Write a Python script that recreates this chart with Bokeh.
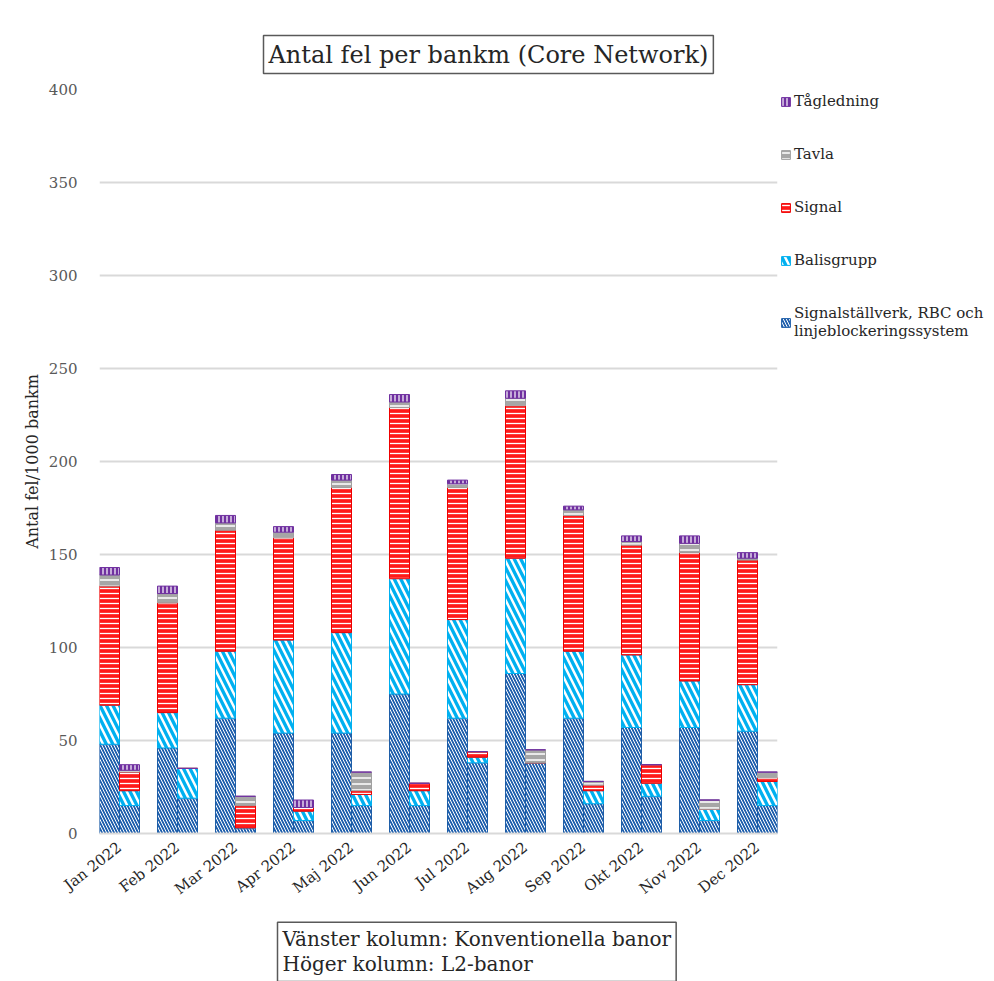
import math
from bokeh.plotting import figure
from bokeh.models import ColumnDataSource, Range1d, FixedTicker, Legend, LegendItem, Title
from bokeh.embed import file_html
from bokeh.resources import INLINE

months = ["Jan 2022", "Feb 2022", "Mar 2022", "Apr 2022", "Maj 2022", "Jun 2022",
          "Jul 2022", "Aug 2022", "Sep 2022", "Okt 2022", "Nov 2022", "Dec 2022"]

series_keys = ["sig", "bal", "signal", "tavla", "tag"]
series_names = ["Signalställverk, RBC och\nlinjeblockeringssystem", "Balisgrupp", "Signal", "Tavla", "Tågledning"]

# Left column: conventional lines
left_sig = [48, 46, 62, 54, 54, 75, 62, 86, 62, 57, 57, 55]
left_bal = [21, 19, 36, 50, 54, 62, 53, 62, 36, 39, 25, 25]
left_signal = [64, 59, 65, 55, 78, 92, 71, 82, 73, 59, 69, 67]
left_tavla = [6, 5, 4, 3, 4, 3, 2, 4, 3, 2, 5, 1]
left_tag = [4, 4, 4, 3, 3, 4, 2, 4, 2, 3, 4, 3]

# Right column: L2 lines
right_sig = [15, 19, 3, 7, 15, 15, 38, 38, 16, 20, 7, 15]
right_bal = [8, 16, 0, 5, 6, 8, 3, 0, 7, 7, 6, 13]
right_signal = [10, 0, 12, 2, 2, 4, 3, 0, 3, 10, 0, 2]
right_tavla = [1, 0, 5, 0, 10, 0, 0, 7, 2, 0, 5, 3]
right_tag = [3, 0, 0, 4, 0, 0, 0, 0, 0, 0, 0, 0]

SERIF = "DejaVu Serif"
idx = list(range(len(months)))
bar_w = 20 / 58
off = bar_w / 2

left_src = ColumnDataSource(dict(x=[i - off for i in idx], sig=left_sig, bal=left_bal,
                                 signal=left_signal, tavla=left_tavla, tag=left_tag))
right_src = ColumnDataSource(dict(x=[i + off for i in idx], sig=right_sig, bal=right_bal,
                                  signal=right_signal, tavla=right_tavla, tag=right_tag))

p = figure(frame_width=678, frame_height=744, output_backend="svg", toolbar_location=None,
           x_range=Range1d(-bar_w, len(months) - 1 + bar_w), y_range=Range1d(0, 400),
           min_border_left=99, min_border_right=217, min_border_top=89, min_border_bottom=148,
           title=None)
p.outline_line_color = None
p.background_fill_color = "white"
p.border_fill_color = "white"

fills = ["#2060ad", "#00b0f0", "#ff1a1a", "#a6a6a6", "#7030a0"]
lines = ["#1f5fa8", "#00b0f0", "#ee0000", "#a0a0a0", "#7030a0"]
hatches = ["\\", "\\", "-", "-", "|"]
hscales = [6, 13, 5, 6, 4]
hweights = [1.0, 2.5, 1.3, 1.5, 1.2]

style = dict(width=bar_w, fill_color=fills, line_color=lines, line_width=1,
             hatch_pattern=hatches, hatch_color="white", hatch_scale=hscales, hatch_weight=hweights)

lr = p.vbar_stack(series_keys, x="x", source=left_src, **style)
rr = p.vbar_stack(series_keys, x="x", source=right_src, **style)

# axes
p.yaxis.ticker = FixedTicker(ticks=list(range(0, 401, 50)))
p.yaxis.axis_line_color = None
p.yaxis.major_tick_line_color = None
p.yaxis.minor_tick_line_color = None
p.yaxis.major_label_text_font = SERIF
p.yaxis.major_label_text_font_size = "15px"
p.yaxis.major_label_text_color = "#595959"
p.yaxis.major_label_standoff = 16
p.yaxis.axis_label = "Antal fel/1000 bankm"
p.yaxis.axis_label_text_font = SERIF
p.yaxis.axis_label_text_font_size = "16px"
p.yaxis.axis_label_text_font_style = "normal"
p.yaxis.axis_label_text_color = "#262626"
p.yaxis.axis_label_standoff = 4

p.xaxis.ticker = FixedTicker(ticks=idx)
p.xaxis.major_label_overrides = {i: m for i, m in enumerate(months)}
p.xaxis.major_label_orientation = 0.66
p.xaxis.axis_line_color = "#d9d9d9"
p.xaxis.axis_line_width = 2
p.xaxis.major_tick_line_color = None
p.xaxis.minor_tick_line_color = None
p.xaxis.major_label_text_font = SERIF
p.xaxis.major_label_text_font_size = "15px"
p.xaxis.major_label_text_color = "#262626"
p.xaxis.major_label_standoff = 6

p.xgrid.grid_line_color = None
p.ygrid.grid_line_color = "#d9d9d9"
p.ygrid.grid_line_width = 2

# legend (reverse order: top = Tågledning)
items = [LegendItem(label=series_names[k], renderers=[lr[k]]) for k in reversed(range(5))]
legend = Legend(items=items, location="top_left", orientation="vertical",
                label_text_font=SERIF, label_text_font_size="15px", label_text_color="#262626",
                glyph_width=11, glyph_height=11, label_standoff=3, label_height=12,
                spacing=35, padding=0, margin=3, border_line_color=None,
                background_fill_alpha=0)
p.add_layout(legend, "right")

# title box (above)
title = Title(text="Antal fel per bankm (Core Network)", align="left", offset=164,
              text_font=SERIF, text_font_size="24px", text_font_style="normal", text_color="#262626",
              border_line_color="#595959", border_line_width=1.5, background_fill_color="white",
              padding=5, standoff=32)
p.add_layout(title, "above")

note = Title(text="Vänster kolumn: Konventionella banor\nHöger kolumn: L2-banor", align="left", offset=178,
             text_font=SERIF, text_font_size="20px", text_font_style="normal", text_color="#262626",
             text_line_height=1.05,
             border_line_color="#595959", border_line_width=1.5, background_fill_color="white",
             padding=5, standoff=24)
p.add_layout(note, "below")

open("out.html", "w").write(file_html(p, INLINE))
